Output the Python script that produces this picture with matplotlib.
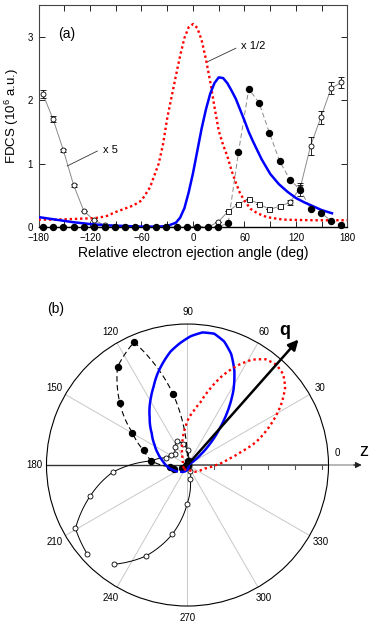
import numpy as np
import matplotlib
matplotlib.use("Agg")
import matplotlib.pyplot as plt

plt.rcParams['font.family'] = ['Liberation Sans', 'DejaVu Sans']
plt.rcParams['mathtext.default'] = 'regular'

# measured points (12 deg steps), relative ejection angle
exp_angles = [-175, -163, -151, -139, -127, -115, -103, -91, -79, -67, -55, -43, -31, -19, -7,
              5, 17, 29, 41, 53, 65, 77, 89, 101, 113, 125, 137, 149, 161, 173]
filled = [0, 0, 0, 0, 0, 0, 0, 0, 0, 0, 0, 0, 0, 0, 0,
          0.01, 0.01, 0.01, 0.06, 1.18, 2.18, 1.96, 1.49, 1.04, 0.75, 0.59, 0.29, 0.23, 0.10, 0.03]
filled_err = [0, 0, 0, 0, 0, 0, 0, 0, 0, 0, 0, 0, 0, 0, 0,
              0, 0, 0, 0, 0, 0, 0, 0, 0, 0, 0.10, 0, 0, 0, 0]
open_x5 = [2.10, 1.70, 1.21, 0.66, 0.25, 0.11, 0.03, 0.01, 0, 0, 0, 0, 0, 0, 0,
           0, 0, 0.08, 0.25, 0.37, 0.44, 0.37, 0.28, 0.33, 0.39, 0.62, 1.28, 1.73, 2.19, 2.28]
open_err = [0.06, 0.05, 0.03, 0.02, 0, 0, 0, 0, 0, 0, 0, 0, 0, 0, 0,
            0, 0, 0, 0, 0, 0, 0, 0, 0.02, 0.04, 0.05, 0.14, 0.10, 0.09, 0.08]

# theory curves
red_angles = [-180, -160, -140, -120, -110, -100, -90, -80, -70, -60, -50, -40, -35, -30, -25,
              -20, -15, -10, -5, 0, 5, 10, 15, 20, 25, 30, 35, 40, 45, 50, 55, 60, 67, 75,
              86, 95, 105, 120, 140, 160, 180]
red_half = [0.12, 0.12, 0.13, 0.14, 0.15, 0.18, 0.24, 0.29, 0.34, 0.42, 0.63, 1.0, 1.3, 1.72, 2.05,
            2.38, 2.7, 2.98, 3.15, 3.2, 3.14, 2.95, 2.65, 2.3, 1.9, 1.52, 1.3, 1.12, 0.89, 0.7, 0.53,
            0.42, 0.29, 0.22, 0.16, 0.14, 0.12, 0.115, 0.11, 0.11, 0.11]
blue_angles = [-180, -160, -140, -120, -100, -80, -60, -40, -30, -20, -15, -10, -5, 0, 5, 10,
               15, 20, 25, 30, 35, 40, 45, 50, 55, 60, 65, 70, 80, 90, 100, 110, 120, 130, 140,
               150, 162]
blue_vals = [0.16, 0.12, 0.08, 0.05, 0.03, 0.02, 0.01, 0.01, 0.02, 0.07, 0.15, 0.3, 0.55, 0.85,
             1.2, 1.55, 1.85, 2.1, 2.27, 2.36, 2.35, 2.27, 2.15, 2.02, 1.85, 1.68, 1.5, 1.35,
             1.07, 0.84, 0.68, 0.56, 0.46, 0.39, 0.33, 0.27, 0.22]

theta_q = 48.5
polar_labels = [0, 30, 60, 90, 120, 150, 180, 210, 240, 270, 300, 330]

fig = plt.figure(figsize=(3.74, 6.26), dpi=100)

# ---- panel (a)
ax1 = fig.add_axes([0.103, 0.637, 0.826, 0.355])
ax1.plot(exp_angles, open_x5, color='#8a8a8a', lw=0.7, zorder=2)
ax1.plot(exp_angles, filled, color='#8a8a8a', lw=0.7, ls=(0, (5, 3)), zorder=2)
ax1.plot(red_angles, red_half, color='red', ls=(0, (1, 1.2)), lw=1.7, zorder=3)
ax1.plot(blue_angles, blue_vals, color='blue', lw=1.8, zorder=3)

ax1.errorbar(exp_angles, open_x5, yerr=open_err, fmt='none', ecolor='black',
             elinewidth=0.6, capsize=2.5, capthick=0.6, zorder=4)
sq = [i for i, a in enumerate(exp_angles) if 40 < a < 110]
circ = [i for i in range(len(exp_angles)) if i not in sq]
ax1.plot([exp_angles[i] for i in circ], [open_x5[i] for i in circ], 'o', ms=3.6,
         mfc='white', mec='black', mew=0.6, zorder=5, clip_on=False)
ax1.plot([exp_angles[i] for i in sq], [open_x5[i] for i in sq], 's', ms=3.6,
         mfc='white', mec='black', mew=0.6, zorder=5, clip_on=False)
ax1.errorbar(exp_angles, filled, yerr=filled_err, fmt='o', ms=4.3, color='black',
             elinewidth=0.6, capsize=2.5, capthick=0.6, zorder=6, clip_on=False)

ax1.set_xlim(-180, 180)
ax1.set_ylim(0, 3.5)
ax1.set_xticks(range(-180, 181, 60))
ax1.set_xticks(range(-150, 180, 60), minor=True)
ax1.set_yticks([0, 1, 2, 3])
ax1.tick_params(which='both', direction='in', top=True, right=True, length=4,
                width=0.6, labelsize=7, pad=4)
for s in ax1.spines.values():
    s.set_linewidth(0.8)
    s.set_color('#444444')
ax1.spines['bottom'].set_color('black')
ax1.spines['bottom'].set_linewidth(1.0)
ax1.set_xlabel('Relative electron ejection angle (deg)', fontsize=10, labelpad=2)
ax1.set_ylabel('FDCS (10$^6$ a.u.)', fontsize=9.5, labelpad=5)

ax1.text(-147, 3.05, '(a)', fontsize=10, ha='center', va='center')
ax1.text(56, 2.85, 'x 1/2', fontsize=8, ha='left', va='center')
ax1.plot([16, 50], [2.6, 2.82], color='#333333', lw=0.6)
ax1.text(-105, 1.22, 'x 5', fontsize=8, ha='left', va='center')
ax1.plot([-146.5, -111.5], [0.965, 1.2], color='#333333', lw=0.6)

# ---- panel (b), polar
ax2 = fig.add_axes([0.1243, 0.0319, 0.754, 0.4505], projection='polar')
ax2.set_ylim(0, 1.052)
ax2.set_thetagrids(polar_labels, labels=[''] * len(polar_labels))
ax2.set_yticks([])
ax2.xaxis.grid(True, color='#c8c8c8', lw=0.7)
ax2.spines['polar'].set_linewidth(0.8)
ax2.tick_params(axis='x', length=3, width=0.6, direction='out')

for ang in polar_labels:
    if ang == 0:
        ax2.text(np.deg2rad(4.6), 1.12, '0', fontsize=7, ha='center', va='center')
    else:
        ax2.text(np.deg2rad(ang), 1.145, str(ang), fontsize=7, ha='center', va='center')

# z axis
ax2.plot([0, 0], [0, 1.052], color='#555555', lw=1.2, zorder=2)
ax2.plot([np.pi, np.pi], [0, 1.052], color='#333333', lw=1.0, zorder=2)
ax2.plot([0, 0], [1.052, 1.26], color='#aaaaaa', lw=1.2, clip_on=False, zorder=2)
ax2.annotate('', xy=(0, 1.30), xytext=(0, 1.24), annotation_clip=False,
             arrowprops=dict(arrowstyle='-|>', color='#222222', lw=0.8,
                             mutation_scale=9, shrinkA=0, shrinkB=0))
ax2.plot([0] * 5, [0.2, 0.4, 0.6, 0.8, 1.0], ls='none', marker=3, ms=3,
         color='#555555', mew=0.8, zorder=2)
ax2.text(np.deg2rad(4.5), 1.32, 'z', fontsize=13, ha='center', va='center')

th_exp = np.deg2rad(np.array(exp_angles) + theta_q)
op = np.array(open_x5)
fl = np.array(filled)
bl = np.array(blue_vals)
rd = np.array(red_half)
polar_lines = []
polar_lines += ax2.plot(th_exp, op / op.max(), '-', color='black', lw=0.7, marker='o', ms=3.6,
                        mfc='white', mec='black', mew=0.6, zorder=3)
polar_lines += ax2.plot(th_exp, fl / fl.max(), color='black', lw=0.8, ls=(0, (5, 3)),
                        marker='o', ms=4.3, mfc='black', mec='black', zorder=4)
polar_lines += ax2.plot(np.deg2rad(np.array(blue_angles) + theta_q), bl / bl.max(),
                        color='blue', lw=1.8, zorder=5)
polar_lines += ax2.plot(np.deg2rad(np.array(red_angles) + theta_q), rd / rd.max(),
                        color='red', ls=(0, (1, 1.3)), lw=1.7, zorder=6)
# let the polar transform draw curved segments between points
for ln in polar_lines:
    ln.get_path()._interpolation_steps = 16

ax2.annotate('', xy=(np.deg2rad(theta_q), 1.25), xytext=(0, 0), annotation_clip=False,
             arrowprops=dict(arrowstyle='-|>', color='black', lw=1.8,
                             mutation_scale=15, shrinkA=0, shrinkB=0), zorder=7)
ax2.text(np.deg2rad(54), 1.24, 'q', fontsize=13, fontweight='bold', ha='center', va='center')

fig.text(0.148, 0.506, '(b)', fontsize=10, ha='center', va='center')

fig.savefig('out.png', dpi=100)
